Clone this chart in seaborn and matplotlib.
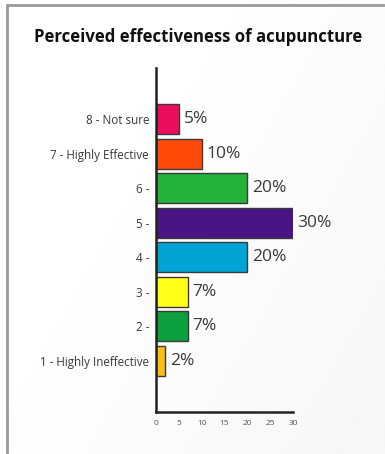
import matplotlib
matplotlib.use("Agg")
import matplotlib.pyplot as plt
import seaborn as sns
import pandas as pd
import numpy as np
from matplotlib.lines import Line2D

categories = ["8 - Not sure", "7 - Highly Effective", "6 -", "5 -", "4 -", "3 -", "2 -", "1 - Highly Ineffective"]
values = [5, 10, 20, 30, 20, 7, 7, 2]
value_labels = ["5%", "10%", "20%", "30%", "20%", "7%", "7%", "2%"]
colors = ["#ec0d5c", "#ff4a0a", "#24b23a", "#4a1483", "#00a5d5", "#ffff1a", "#0b9f3d", "#fbbd16"]
xticks = [0, 5, 10, 15, 20, 25, 30]
title = "Perceived effectiveness of acupuncture"

sns.set_style("white")
plt.rcParams['font.family'] = ['Open Sans', 'DejaVu Sans']

fig = plt.figure(figsize=(3.85, 4.54), dpi=100)

# background gradient
bg = fig.add_axes([0, 0, 1, 1], zorder=-10)
grad = np.linspace(0, 1, 256)
X, Y = np.meshgrid(grad, grad)
G = 1.0 - 0.035 * np.clip((X * 0.6 + Y * 0.4) - 0.3, 0, 1) / 0.7
bg.imshow(G, cmap="gray", vmin=0, vmax=1, extent=[0, 1, 0, 1], aspect="auto", origin="upper")
bg.set_xlim(0, 1); bg.set_ylim(0, 1)
bg.axis("off")
# frame lines
fig.add_artist(Line2D([7/385, 7/385], [1 - 5/454, 0], color="#9a9a9a", lw=2.0, transform=fig.transFigure))
fig.add_artist(Line2D([7/385, 384/385], [1 - 5/454, 1 - 5/454], color="#9a9a9a", lw=2.0, transform=fig.transFigure))

ax = fig.add_axes([156/385, 1 - 412/454, 137/385, 344/454])
ax.patch.set_alpha(0)
df = pd.DataFrame({"cat": categories, "val": values})
sns.barplot(data=df, x="val", y="cat", hue="cat", palette=colors, legend=False,
            width=0.87, edgecolor="#3a3a3a", linewidth=1.0, ax=ax, saturation=1)

for i, (v, lab) in enumerate(zip(values, value_labels)):
    ax.text(v + 1.0, i, lab, va="center", ha="left", fontsize=12.5, color="#3a3a3a")

ax.set_xlim(0, 30)
ax.set_ylim(8.48, -1.48)
ax.set_xlabel("")
ax.set_ylabel("")
ax.set_xticks(xticks)
ax.set_xticklabels([str(t) for t in xticks], fontsize=6, color="#555555")
ax.tick_params(axis="x", direction="in", length=5, width=1.5, color="#222222", pad=6)
ax.tick_params(axis="y", length=0, pad=5, labelsize=8.4, labelcolor="#3a3a3a")
sns.despine(ax=ax, top=True, right=True)
ax.spines["left"].set_linewidth(1.8)
ax.spines["bottom"].set_linewidth(1.8)
ax.spines["left"].set_color("#222222")
ax.spines["bottom"].set_color("#222222")

fig.text(198/385, 1 - 37/454, title, ha="center", va="center", fontsize=12.1, fontweight="bold",
         color="#111111")

fig.savefig("out.png", dpi=100)
